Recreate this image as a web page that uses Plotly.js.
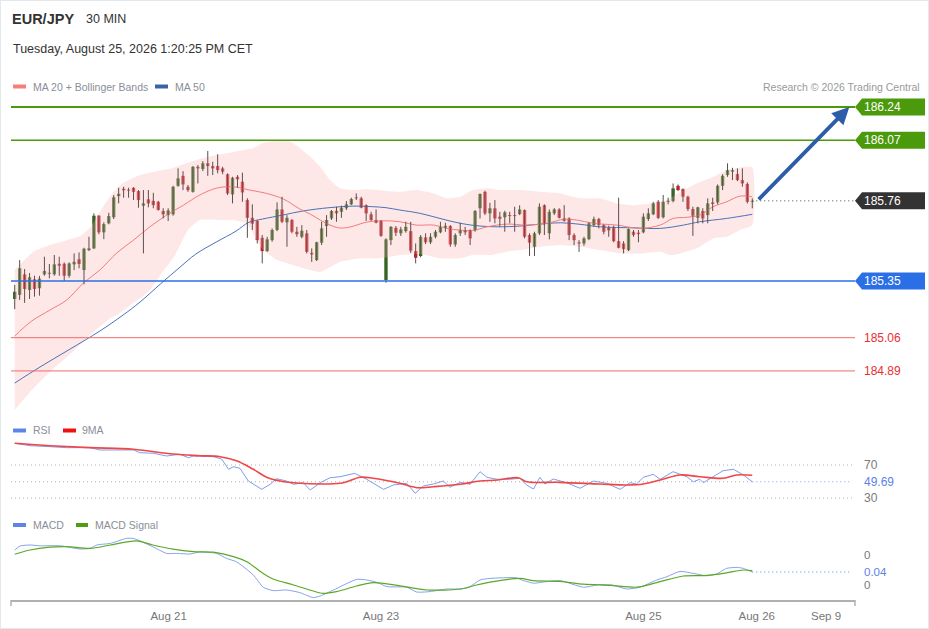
<!DOCTYPE html>
<html><head><meta charset="utf-8">
<script src="https://cdn.plot.ly/plotly-3.0.1.min.js"></script>
<style>
html,body{margin:0;padding:0;background:#fff;}
#chart{width:929px;height:629px;box-sizing:border-box;border:1px solid #e3e8ec;}
</style></head><body><div id="chart"></div>
<script>
// ---------- candle data (30 min bars) ----------
const open = [185.258,185.279,185.384,185.304,185.359,185.313,185.384,185.387,185.384,185.438,
185.438,185.377,185.435,185.461,185.406,185.508,185.517,185.684,185.599,185.645,
185.676,185.784,185.822,185.817,185.827,185.810,185.735,185.768,185.760,185.755,
185.708,185.687,185.691,185.837,185.888,185.832,185.806,185.934,185.923,185.952,
185.938,185.938,185.926,185.896,185.793,185.883,185.858,185.764,185.673,185.657,
185.571,185.503,185.559,185.611,185.716,185.650,185.662,185.602,185.576,185.594,
185.494,185.457,185.546,185.631,185.670,185.709,185.704,185.722,185.742,185.778,
185.773,185.738,185.691,185.662,185.657,185.355,185.559,185.622,185.594,185.605,
185.605,185.503,185.478,185.573,185.548,185.576,185.599,185.622,185.631,185.537,
185.594,185.611,185.611,185.611,185.722,185.806,185.696,185.722,185.679,185.676,
185.687,185.687,185.692,185.713,185.585,185.525,185.594,185.738,185.594,185.696,
185.716,185.670,185.670,185.585,185.548,185.542,185.564,185.636,185.667,185.636,
185.622,185.622,185.554,185.542,185.508,185.602,185.597,185.599,185.667,185.691,
185.755,185.676,185.755,185.759,185.837,185.819,185.781,185.718,185.673,185.708,
185.687,185.752,185.752,185.837,185.892,185.909,185.897,185.866,185.846,185.755];
const high = [185.330,185.457,185.411,185.391,185.377,185.376,185.474,185.437,185.483,185.474,
185.445,185.445,185.491,185.496,185.520,185.576,185.696,185.687,185.650,185.699,
185.790,185.827,185.832,185.827,185.830,185.815,185.815,185.815,185.801,185.760,
185.722,185.722,185.837,185.926,185.912,185.841,185.938,185.943,185.963,186.015,
185.960,185.998,185.934,185.901,185.883,185.892,185.904,185.773,185.742,185.662,
185.585,185.576,185.619,185.752,185.781,185.687,185.667,185.627,185.636,185.611,
185.517,185.551,185.653,185.687,185.713,185.730,185.735,185.759,185.776,185.798,
185.781,185.742,185.704,185.716,185.662,185.568,185.631,185.631,185.627,185.653,
185.653,185.542,185.585,185.594,185.594,185.611,185.653,185.648,185.636,185.594,
185.648,185.627,185.614,185.713,185.798,185.812,185.750,185.764,185.704,185.709,
185.704,185.730,185.737,185.716,185.594,185.602,185.747,185.742,185.716,185.723,
185.722,185.738,185.676,185.594,185.559,185.576,185.650,185.679,185.673,185.640,
185.633,185.633,185.776,185.554,185.619,185.611,185.611,185.696,185.722,185.755,
185.764,185.790,185.776,185.849,185.844,185.824,185.786,185.730,185.730,185.722,
185.773,185.776,185.844,185.896,185.952,185.929,185.926,185.926,185.855,185.773];
const low = [185.206,185.253,185.238,185.258,185.270,185.275,185.377,185.364,185.377,185.377,
185.350,185.367,185.406,185.415,185.333,185.503,185.513,185.589,185.564,185.640,
185.667,185.747,185.776,185.776,185.764,185.725,185.491,185.727,185.722,185.710,
185.670,185.657,185.684,185.832,185.815,185.806,185.802,185.849,185.912,185.888,
185.892,185.901,185.896,185.790,185.747,185.827,185.755,185.571,185.611,185.542,
185.440,185.499,185.551,185.605,185.646,185.525,185.594,185.576,185.568,185.491,
185.448,185.452,185.534,185.576,185.662,185.653,185.673,185.713,185.738,185.764,
185.722,185.657,185.657,185.645,185.576,185.341,185.534,185.580,185.580,185.597,
185.494,185.440,185.471,185.539,185.539,185.568,185.594,185.602,185.525,185.525,
185.580,185.585,185.534,185.602,185.670,185.687,185.653,185.645,185.627,185.602,
185.645,185.602,185.687,185.568,185.478,185.478,185.585,185.585,185.563,185.687,
185.670,185.653,185.559,185.534,185.499,185.530,185.559,185.627,185.619,185.589,
185.576,185.548,185.517,185.491,185.503,185.576,185.548,185.594,185.657,185.687,
185.667,185.670,185.742,185.752,185.810,185.755,185.708,185.581,185.645,185.645,
185.645,185.708,185.742,185.815,185.883,185.866,185.861,185.832,185.747,185.722];
const close = [185.295,185.415,185.309,185.369,185.309,185.362,185.401,185.392,185.435,185.428,
185.377,185.440,185.448,185.437,185.515,185.517,185.684,185.599,185.641,185.682,
185.778,185.796,185.814,185.812,185.806,185.764,185.747,185.747,185.738,185.713,
185.691,185.711,185.832,185.875,185.844,185.815,185.934,185.926,185.952,185.938,
185.926,185.917,185.909,185.798,185.878,185.870,185.803,185.673,185.643,185.559,
185.503,185.563,185.611,185.716,185.653,185.673,185.602,185.589,185.607,185.499,
185.486,185.548,185.619,185.662,185.708,185.696,185.725,185.742,185.769,185.773,
185.725,185.696,185.662,185.648,185.581,185.563,185.627,185.597,185.614,185.627,
185.505,185.469,185.576,185.548,185.576,185.602,185.627,185.632,185.537,185.585,
185.611,185.599,185.568,185.708,185.795,185.696,185.722,185.670,185.668,185.701,
185.682,185.682,185.716,185.576,185.546,185.594,185.730,185.640,185.704,185.716,
185.673,185.658,185.585,185.559,185.542,185.568,185.645,185.667,185.636,185.602,
185.609,185.554,185.520,185.513,185.616,185.585,185.590,185.679,185.696,185.747,
185.673,185.755,185.760,185.824,185.815,185.781,185.718,185.684,185.727,185.670,
185.747,185.744,185.837,185.888,185.917,185.917,185.866,185.849,185.755,185.760];

// ---------- overlays (bar index, value) ----------
const bbUpperX = [0,3.7,7.1,10.5,13.2,15.2,17.2,19.3,21.9,25.3,28.7,32,34.7,37.4,40.8,44.2,48.2,50.2,52.6,55.6,57.6,59.7,61.7,63.7,65.7,68.4,71.1,74.5,77.8,81.2,84.6,87.3,90,92.6,95.4,98,102.1,106.1,110.2,114.2,118.2,121.6,125,128.3,131.7,135.1,137.8,140.5,143.8,146.5,149];
const bbUpper = [185.406,185.498,185.534,185.559,185.580,185.621,185.703,185.784,185.851,185.892,185.912,185.928,185.953,185.974,185.994,186.010,186.030,186.056,186.066,186.063,186.030,185.985,185.934,185.866,185.824,185.815,185.819,185.812,185.806,185.815,185.798,185.773,185.781,185.815,185.824,185.815,185.815,185.806,185.798,185.773,185.773,185.747,185.738,185.747,185.764,185.815,185.849,185.875,185.917,185.931,185.931];
const bbLowerX = [0,3.1,7.1,11.2,15.2,19.3,20.9,23.9,26.9,29.4,32.4,35,37.4,40.9,44.1,46.9,48.1,50.2,53,56.2,59.7,61.7,65.7,69.8,73.8,77.8,81.9,85.9,90,92.6,96,99.4,102.1,106.1,110.2,114.2,118.2,122.3,126.3,130.4,132.4,134.4,137.8,141.1,143.8,146.5,149];
const bbLower = [184.690,184.782,184.884,184.976,185.073,185.160,185.181,185.237,185.293,185.380,185.483,185.611,185.662,185.662,185.662,185.646,185.595,185.508,185.457,185.432,185.406,185.396,185.447,185.466,185.466,185.483,185.488,185.466,185.466,185.483,185.483,185.500,185.508,185.525,185.534,185.525,185.508,185.491,185.491,185.500,185.483,185.491,185.517,185.568,185.576,185.611,185.636];
const ma20X = [0,1.7,3.7,7.1,10.5,13.9,17.2,20.6,24,27.3,30.7,34.1,37.4,40.8,44.2,47.5,50.9,54.3,57.6,59.7,61.7,63.7,65.7,67.7,71.1,74.5,77.8,81.2,84.6,87.3,90,92.6,95.4,99.4,103.4,107.5,110.8,113.5,116.9,121.6,126.3,130.4,133,135.8,138.4,141.1,143.8,146.5,149];
const ma20 = [185.068,185.109,185.150,185.201,185.253,185.340,185.406,185.493,185.559,185.627,185.687,185.738,185.790,185.825,185.832,185.815,185.798,185.769,185.718,185.692,185.662,185.636,185.621,185.626,185.651,185.658,185.653,185.636,185.636,185.619,185.610,185.608,185.627,185.641,185.636,185.645,185.665,185.662,185.645,185.636,185.619,185.636,185.670,185.676,185.687,185.730,185.755,185.784,185.781];
const ma50X = [0,5.1,11.2,17.2,21.9,25.3,29.4,33.4,36.6,40.7,44.7,47.3,50.1,54.1,58.2,63.5,68.3,72.3,75,77.8,81.9,85.9,90,94,98,102.1,106.1,110.2,114.2,118.2,125,130.4,135.1,138.4,143.8,149];
const ma50 = [184.828,184.910,185.002,185.094,185.176,185.242,185.334,185.421,185.488,185.549,185.605,185.650,185.667,185.687,185.708,185.725,185.733,185.730,185.725,185.713,185.696,185.670,185.645,185.631,185.627,185.631,185.641,185.648,185.640,185.627,185.622,185.619,185.636,185.653,185.670,185.691];

// ---------- RSI ----------
const rsiX = [0,3.1,7.1,10.5,15.2,17.2,19.9,24,25.3,28,30.7,33.4,35.1,36.1,40.1,41.8,43.2,44.2,45.5,47.2,49.9,51.6,52.9,54.9,56.3,58.3,59.7,61.7,63.7,65.7,68.7,71.1,74.5,76.5,79.2,80.9,82.5,84.6,86.6,87.9,90,92,94,95.4,97.4,100,102.1,103.4,104.8,106.1,107.1,108.8,111.5,114.2,116.9,119.6,122.3,124.3,125.6,127,129,130.4,133,135.8,137.1,138.4,139.1,141.1,143.1,145.2,147.2,149];
const rsi = [96.3,93.4,92.2,91,91,88.2,88.2,88.2,84.9,84.2,80.9,83,78.8,80.9,80.1,77.3,64.8,67.9,66,50.6,40.5,46.6,53.4,50.6,46.6,48.5,39.7,48.5,54.6,55.8,59.9,52.7,40.5,45.8,47.8,35.7,44.5,47,50.6,43,49,46.6,61.9,55.1,52.7,52.7,53.9,45.8,40.9,55.1,47,53,48.5,41.8,50.6,47.8,40.5,48.5,47,55.1,58.7,52.7,61.9,55.8,49.7,52.7,48.5,55.8,63.1,64.8,57.9,49.69];
const rsiMaX = [0,7.1,15.2,24,32,37.4,41.5,44.8,48.2,50.9,53.6,57.6,63,66.4,69.8,72.4,77.8,81.2,84.6,90,94,97.6,101.7,103.4,110.2,118.2,123.6,127,130.4,134.4,138.4,143.1,145.9,149];
const rsiMa = [96.3,93.4,91,89,83.3,81.3,80.1,75.2,64.8,55.1,50.6,47.8,47,48.5,55.1,53.9,47.8,42.5,43.7,46.6,50.6,51.8,54.6,49.8,49,47,45.8,47,51.8,57.9,55.8,53.9,57.9,57.5];

// ---------- MACD ----------
const macdX = [0,1.1,3.1,5.1,9.2,13.2,15.2,16.6,19.3,22.6,23.9,25.3,27.9,30.7,32.7,35.4,37.4,40.8,42.8,44.8,48.2,50.2,52.2,54.9,57.6,60.3,61.7,64.4,69.1,71.1,73.1,75.2,79.2,81.2,83.9,87.3,90,91.8,94,96,101.4,102.1,104.8,106.8,110.2,114.9,118.2,120.9,123.6,126.3,129.7,131.7,134.4,137.1,139.8,141.8,143.8,145.9,147.2,149];
const macd = [0.15,0.17,0.175,0.171,0.171,0.155,0.158,0.175,0.183,0.208,0.208,0.196,0.166,0.133,0.133,0.13,0.14,0.133,0.108,0.091,0.025,-0.036,-0.053,-0.05,-0.063,-0.088,-0.08,-0.05,0.003,0,-0.011,-0.033,-0.036,-0.06,-0.058,-0.045,-0.045,-0.036,0,0.008,0.011,0.003,-0.016,-0.01,-0.003,-0.036,-0.023,-0.026,-0.045,-0.036,0,0.016,0.043,0.033,0.021,0.03,0.058,0.063,0.058,0.04];
const signalX = [0,3.1,7.1,10.5,15.2,19.3,24.6,27.9,32,36.1,40.1,44.2,46.9,50.2,52.2,56.3,60.3,62.3,65,69.1,72.4,77.8,83.2,90,93.3,96.7,102.1,104.8,110.2,114.9,120.3,125.7,129.7,135.1,139.8,143.8,147.2,149];
const signal = [0.129,0.15,0.164,0.167,0.158,0.175,0.196,0.175,0.154,0.142,0.139,0.117,0.091,0.033,0.005,-0.025,-0.055,-0.067,-0.058,-0.03,-0.013,-0.029,-0.05,-0.045,-0.025,-0.008,0.008,-0.003,-0.007,-0.021,-0.027,-0.036,-0.013,0.02,0.023,0.036,0.05,0.047];

// ---------- levels & labels ----------
const levelValues = [186.24, 186.07, 185.35, 185.06, 184.89];
const levelLabels = ['186.24', '186.07', '185.35', '185.06', '184.89'];
const lastPrice = 185.76, lastPriceLabel = '185.76';
const targetPrice = 186.24;
const rsiLevels = [70, 30], rsiLevelLabels = ['70', '30'];
const rsiLast = 49.69, rsiLastLabel = '49.69';
const macdLevels = [0.126, -0.024], macdLevelLabels = ['0', '0'];
const macdLast = 0.04, macdLastLabel = '0.04';
const xTickVals = [31.1, 74, 127, 149.9, 163.9];
const xTickText = ['Aug 21', 'Aug 23', 'Aug 25', 'Aug 26', 'Sep 9'];

// ---------- styling / layout ----------
const FONT = 'Liberation Sans, Arial, Helvetica, sans-serif';
const W = 927, H = 627;
const M = {l: 10, r: 73, t: 94, b: 28};
const PW = W - M.l - M.r, PH = H - M.t - M.b;
const px = x => (x - 1 - M.l) / PW;           // page x -> paper
const py = y => (H - M.b - (y - 1)) / PH;     // page y -> paper
const xRange = [-0.75, 169.75];
const idx = open.map((_, i) => i);
const lastIdx = idx[idx.length - 1];
const bodyBot = open.map((o, i) => Math.min(o, close[i]));
const bodyLen = open.map((o, i) => Math.max(Math.abs(close[i] - o), 0.004));
const GREEN = '#236f12', RED = '#e3121b';
const bodyColor = open.map((o, i) => close[i] >= o ? GREEN : RED);
// wick segments (low -> high for each bar), separated by gaps
const wickX = [], wickY = [];
idx.forEach(i => { wickX.push(i, i, null); wickY.push(low[i], high[i], null); });

const levelStyle = [
  {color: '#4a9a0c', width: 2, tag: true},
  {color: '#4a9a0c', width: 1.5, tag: true},
  {color: '#2b6fe6', width: 1.5, tag: true},
  {color: '#f06a6a', width: 1, tag: false},
  {color: '#f06a6a', width: 1, tag: false}
];

const traces = [
  {type: 'scatter', mode: 'lines', x: bbUpperX.concat(bbLowerX.slice().reverse()),
   y: bbUpper.concat(bbLower.slice().reverse()), fill: 'toself',
   fillcolor: 'rgba(250,195,195,0.4)', line: {width: 0, shape: 'spline', smoothing: 0.5},
   xaxis: 'x', yaxis: 'y', hoverinfo: 'skip'},
  {type: 'scatter', mode: 'lines', x: ma50X, y: ma50, line: {color: '#4a73b6', width: 1, shape: 'spline'}, xaxis: 'x', yaxis: 'y', hoverinfo: 'skip'},
  {type: 'scatter', mode: 'lines', x: ma20X, y: ma20, line: {color: '#f47c7c', width: 1, shape: 'spline'}, xaxis: 'x', yaxis: 'y', hoverinfo: 'skip'},
  // wicks
  {type: 'scatter', mode: 'lines', x: wickX, y: wickY, connectgaps: false,
   line: {color: '#5e4d4d', width: 1}, xaxis: 'x', yaxis: 'y', hoverinfo: 'skip'},
  // candle bodies
  {type: 'bar', x: idx, y: bodyLen, base: bodyBot, width: 0.68,
   marker: {color: bodyColor, line: {width: 0}}, xaxis: 'x', yaxis: 'y', hoverinfo: 'skip'},
  {type: 'scatter', mode: 'lines', x: rsiX, y: rsi, line: {color: '#7e9de9', width: 1}, xaxis: 'x', yaxis: 'y2', hoverinfo: 'skip'},
  {type: 'scatter', mode: 'lines', x: rsiMaX, y: rsiMa, line: {color: '#f04646', width: 1.6, shape: 'spline'}, xaxis: 'x', yaxis: 'y2', hoverinfo: 'skip'},
  {type: 'scatter', mode: 'lines', x: macdX, y: macd, line: {color: '#86a2ea', width: 1, shape: 'spline', smoothing: 0.6}, xaxis: 'x', yaxis: 'y3', hoverinfo: 'skip'},
  {type: 'scatter', mode: 'lines', x: signalX, y: signal, line: {color: '#5ca826', width: 1.2, shape: 'spline', smoothing: 0.8}, xaxis: 'x', yaxis: 'y3', hoverinfo: 'skip'}
];

const shapes = [];
const annotations = [];
const DOT = '1px,3px';

levelValues.forEach((v, i) => {
  const st = levelStyle[i];
  shapes.push({type: 'line', xref: 'paper', yref: 'y', x0: 0, x1: 1, y0: v, y1: v, layer: 'above',
               line: {color: st.color, width: st.width}});
  if (st.tag) {
    shapes.push({type: 'path', xref: 'paper', yref: 'y', xsizemode: 'pixel', ysizemode: 'pixel',
                 xanchor: 1, yanchor: v, path: 'M0,0L7,8.5L70,8.5L70,-8.5L7,-8.5Z',
                 fillcolor: st.color, line: {width: 0}, layer: 'above'});
  }
  annotations.push({xref: 'paper', yref: 'y', x: 1, y: v, xanchor: 'left', yanchor: 'middle', xshift: 7,
                    text: levelLabels[i], showarrow: false,
                    font: {family: FONT, size: 12, color: st.tag ? '#ffffff' : '#e83030'}});
});
// current price
shapes.push({type: 'line', xref: 'x', yref: 'y', x0: lastIdx, x1: xRange[1], y0: lastPrice, y1: lastPrice,
             line: {color: '#444', width: 1, dash: DOT}});
shapes.push({type: 'path', xref: 'paper', yref: 'y', xsizemode: 'pixel', ysizemode: 'pixel',
             xanchor: 1, yanchor: lastPrice, path: 'M0,0L7,8.5L70,8.5L70,-8.5L7,-8.5Z',
             fillcolor: '#333333', line: {width: 0}, layer: 'above'});
annotations.push({xref: 'paper', yref: 'y', x: 1, y: lastPrice, xanchor: 'left', yanchor: 'middle', xshift: 7,
                  text: lastPriceLabel, showarrow: false, font: {family: FONT, size: 12, color: '#fff'}});
// target arrow
annotations.push({xref: 'x', yref: 'y', x: 168.6, y: targetPrice, axref: 'x', ayref: 'y',
                  ax: lastIdx + 1, ay: lastPrice, text: '', showarrow: true, arrowhead: 2,
                  arrowsize: 0.9, arrowwidth: 3.8, arrowcolor: '#2d5da8', standoff: 0, startstandoff: 0});

// RSI reference lines
rsiLevels.forEach((v, i) => {
  shapes.push({type: 'line', xref: 'x', yref: 'y2', x0: xRange[0], x1: xRange[1] - 0.6, y0: v, y1: v,
               line: {color: '#b5b5b5', width: 1, dash: DOT}, layer: 'below'});
  annotations.push({xref: 'paper', yref: 'y2', x: 1, y: v, xanchor: 'left', yanchor: 'middle', xshift: 7,
                    text: rsiLevelLabels[i], showarrow: false, font: {family: FONT, size: 12, color: '#7a7a7a'}});
});
shapes.push({type: 'line', xref: 'x', yref: 'y2', x0: xRange[0], x1: lastIdx, y0: rsiLast, y1: rsiLast,
             line: {color: '#b5b5b5', width: 1, dash: DOT}, layer: 'below'});
shapes.push({type: 'line', xref: 'x', yref: 'y2', x0: lastIdx, x1: xRange[1] - 0.6, y0: rsiLast, y1: rsiLast,
             line: {color: '#7e9de9', width: 1.2, dash: DOT}});
annotations.push({xref: 'paper', yref: 'y2', x: 1, y: rsiLast, xanchor: 'left', yanchor: 'middle', xshift: 7,
                  text: rsiLastLabel, showarrow: false, font: {family: FONT, size: 12, color: '#5b82e6'}});

// MACD labels
macdLevels.forEach((v, i) => {
  annotations.push({xref: 'paper', yref: 'y3', x: 1, y: v, xanchor: 'left', yanchor: 'middle', xshift: 7,
                    text: macdLevelLabels[i], showarrow: false, font: {family: FONT, size: 11.5, color: '#7a7a7a'}});
});
shapes.push({type: 'line', xref: 'x', yref: 'y3', x0: lastIdx, x1: xRange[1] - 0.6, y0: macdLast, y1: macdLast,
             line: {color: '#5b82e6', width: 1.2, dash: DOT}});
annotations.push({xref: 'paper', yref: 'y3', x: 1, y: macdLast, xanchor: 'left', yanchor: 'middle', xshift: 7,
                  text: macdLastLabel, showarrow: false, font: {family: FONT, size: 11.5, color: '#5b82e6'}});

// x axis end ticks
[0, 1].forEach(x => shapes.push({type: 'line', xref: 'paper', yref: 'paper', x0: x, x1: x, y0: 0, y1: -6 / PH,
                                 line: {color: '#b0b0b0', width: 1.5}}));

// headers and legends
function txt(x, y, text, size, color, anchor) {
  annotations.push({xref: 'paper', yref: 'paper', x: px(x), y: py(y), xanchor: anchor || 'left', yanchor: 'middle',
                    text: text, showarrow: false, font: {family: FONT, size: size, color: color}});
}
function swatch(x0, x1, y, color) {
  shapes.push({type: 'rect', xref: 'paper', yref: 'paper', x0: px(x0), x1: px(x1), y0: py(y + 2), y1: py(y - 2),
               fillcolor: color, line: {width: 0}});
}
txt(10, 19, '<b>EUR/JPY</b>', 14.5, '#333');
txt(84, 19, '30 MIN', 12.5, '#333');
txt(11, 49, 'Tuesday, August 25, 2026 1:20:25 PM CET', 12.5, '#333');
swatch(13, 26, 86.5, '#fa7d7d'); txt(31, 86.5, 'MA 20 + Bollinger Bands', 10.5, '#8a8e99');
swatch(155, 168, 86.5, '#3a62a6'); txt(173, 86.5, 'MA 50', 10.5, '#8a8e99');
txt(922, 86.5, 'Research © 2026 Trading Central', 10.5, '#9a9a9a', 'right');
swatch(13, 26, 430.5, '#5d84e6'); txt(31, 430.5, 'RSI', 10.5, '#8a8e99');
swatch(63, 76, 430.5, '#ee1111'); txt(80, 430.5, '9MA', 10.5, '#8a8e99');
swatch(13, 26, 525, '#5d84e6'); txt(31, 525, 'MACD', 10.5, '#8a8e99');
swatch(76, 88, 525, '#4d9e12'); txt(93, 525, 'MACD Signal', 10.5, '#8a8e99');

const hidden = {visible: false, showgrid: false, zeroline: false, fixedrange: true};
const layout = {
  width: W, height: H, margin: M, paper_bgcolor: '#fff', plot_bgcolor: 'rgba(0,0,0,0)',
  showlegend: false, hovermode: false, dragmode: false, barmode: 'overlay',
  font: {family: FONT},
  xaxis: {range: xRange, anchor: 'y3', showgrid: false, zeroline: false, showline: true,
          linecolor: '#b0b0b0', linewidth: 2, ticks: '', tickvals: xTickVals, ticktext: xTickText,
          tickfont: {family: FONT, size: 11.5, color: '#777'}, ticklabelstandoff: 4, fixedrange: true},
  yaxis: Object.assign({domain: [py(412), 1], range: [184.6799, 186.3014]}, hidden),
  yaxis2: Object.assign({domain: [py(505), py(440)], range: [21.52, 100.3]}, hidden),
  yaxis3: Object.assign({domain: [0, py(535)], range: [-0.10, 0.225]}, hidden),
  shapes: shapes, annotations: annotations
};
Plotly.newPlot('chart', traces, layout, {displayModeBar: false, staticPlot: true});
</script></body></html>
